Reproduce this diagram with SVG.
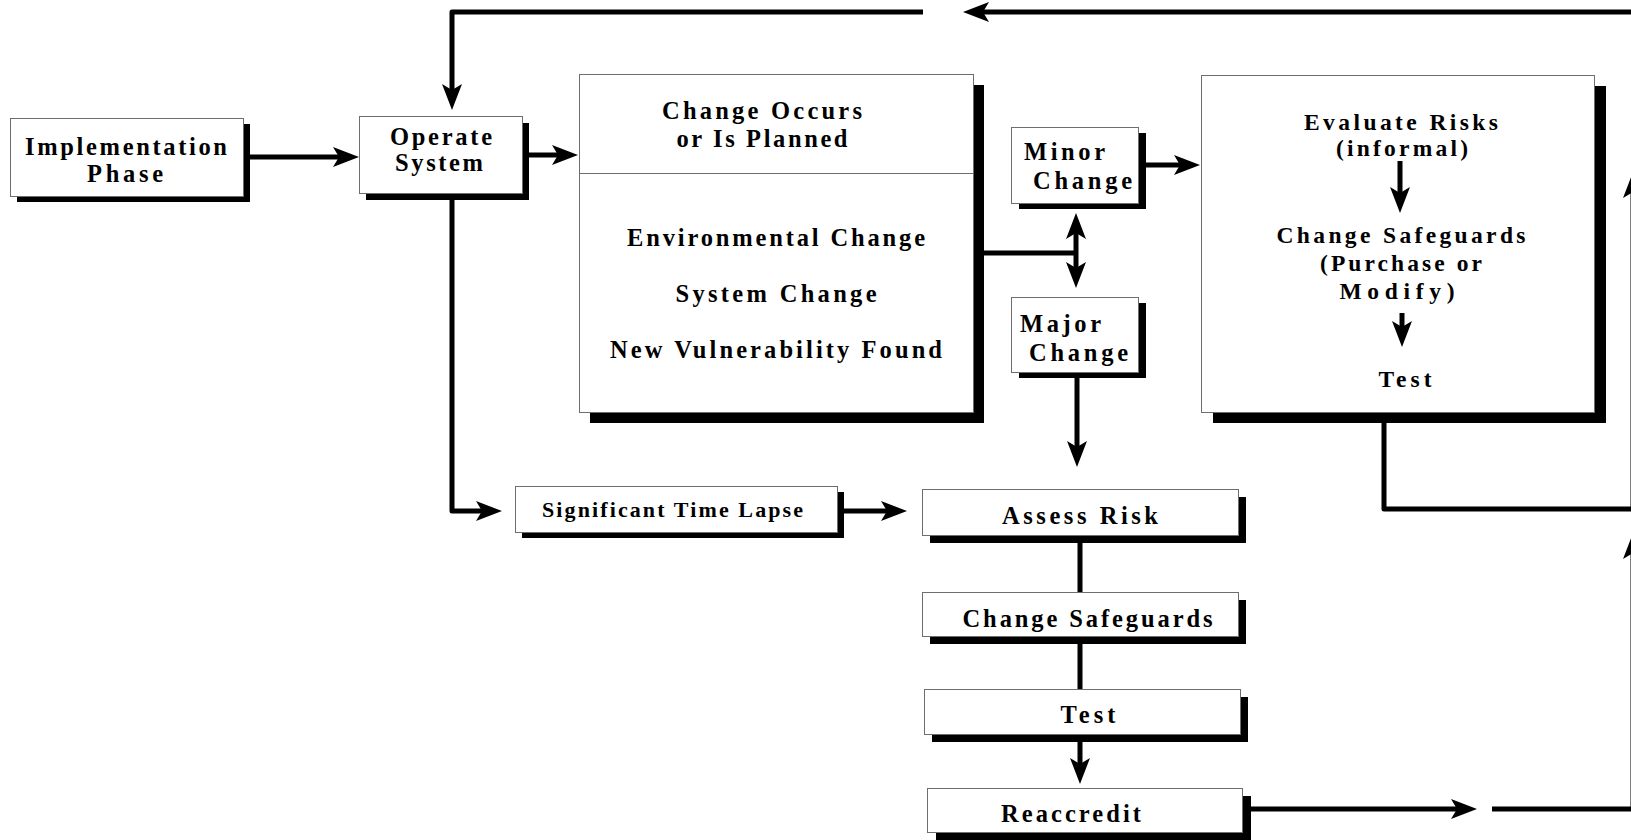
<svg xmlns="http://www.w3.org/2000/svg" width="1631" height="840" viewBox="0 0 1631 840">
<style>
.box{fill:#fff;stroke:#6e6e6e;stroke-width:1}
.sh{fill:#000}
.ln{fill:none;stroke:#000;stroke-width:5;stroke-linejoin:round;stroke-linecap:butt}
.arr{marker-end:url(#ah)}
text{font-family:"Liberation Serif","Times New Roman",serif;font-weight:bold;font-size:24.5px;fill:#000;text-anchor:middle}
.s21{font-size:22px}
.s22{font-size:23.5px}
</style>
<defs>
<marker id="ah" markerUnits="userSpaceOnUse" viewBox="-27 -11 28 22" markerWidth="28" markerHeight="22" refX="-18" refY="0" orient="auto">
<path d="M0,0 L-26,-10 L-20,0 L-26,10 Z" fill="#000"/>
</marker>
</defs>
<rect width="1631" height="840" fill="#fff"/>
<g id="implementation-phase">
<rect class="sh" x="17" y="124" width="233" height="78"/>
<rect class="box" x="10.5" y="118.5" width="233" height="78"/>
<text x="126" y="155" textLength="202" lengthAdjust="spacing">Implementation</text>
<text x="125" y="182" textLength="76" lengthAdjust="spacing">Phase</text>
</g>
<g id="operate-system">
<rect class="sh" x="366" y="123" width="163" height="77"/>
<rect class="box" x="359.5" y="116.5" width="163" height="77"/>
<text x="441" y="145" textLength="102" lengthAdjust="spacing">Operate</text>
<text x="439" y="171" textLength="88" lengthAdjust="spacing">System</text>
</g>
<g id="change-occurs">
<rect class="sh" x="590" y="85" width="394" height="338"/>
<rect class="box" x="579.5" y="74.5" width="394" height="338"/>
<line x1="579.5" y1="173.5" x2="973.5" y2="173.5" stroke="#6e6e6e" stroke-width="1"/>
<text x="762" y="119" textLength="200" lengthAdjust="spacing">Change Occurs</text>
<text x="762" y="147" textLength="171" lengthAdjust="spacing">or Is Planned</text>
<text x="776" y="246" textLength="298" lengthAdjust="spacing">Environmental Change</text>
<text x="776" y="302" textLength="201" lengthAdjust="spacing">System Change</text>
<text x="776" y="358" textLength="332" lengthAdjust="spacing">New Vulnerability Found</text>
</g>
<g id="minor-change">
<rect class="sh" x="1019" y="133" width="127" height="76"/>
<rect class="box" x="1011.5" y="127.5" width="127" height="76"/>
<text x="1064.5" y="160" textLength="81" lengthAdjust="spacing">Minor</text>
<text x="1082.5" y="189" textLength="99" lengthAdjust="spacing">Change</text>
</g>
<g id="major-change">
<rect class="sh" x="1019" y="303" width="127" height="75"/>
<rect class="box" x="1011.5" y="297.5" width="127" height="75"/>
<text x="1060.5" y="332" textLength="81" lengthAdjust="spacing">Major</text>
<text x="1078.5" y="361" textLength="99" lengthAdjust="spacing">Change</text>
</g>
<g id="evaluate-risks">
<rect class="sh" x="1213" y="86" width="393" height="337"/>
<rect class="box" x="1201.5" y="75.5" width="393" height="337"/>
<text class="s22" x="1401" y="130" textLength="194" lengthAdjust="spacing">Evaluate Risks</text>
<text class="s22" x="1402" y="156" textLength="132" lengthAdjust="spacing">(informal)</text>
<text class="s22" x="1401" y="243" textLength="249" lengthAdjust="spacing">Change Safeguards</text>
<text class="s22" x="1401" y="271" textLength="162" lengthAdjust="spacing">(Purchase or</text>
<text class="s22" x="1397" y="299" textLength="115" lengthAdjust="spacing">Modify)</text>
<text class="s22" x="1405" y="387" textLength="53" lengthAdjust="spacing">Test</text>
</g>
<g id="significant-time-lapse">
<rect class="sh" x="522" y="492" width="322" height="46"/>
<rect class="box" x="515.5" y="486.5" width="322" height="46"/>
<text class="s21" x="672.5" y="517" textLength="261" lengthAdjust="spacing">Significant Time Lapse</text>
</g>
<g id="assess-risk">
<rect class="sh" x="930" y="497" width="316" height="46"/>
<rect class="box" x="922.5" y="489.5" width="316" height="46"/>
<text x="1080" y="524" textLength="156" lengthAdjust="spacing">Assess Risk</text>
</g>
<g id="change-safeguards">
<rect class="sh" x="930" y="600" width="316" height="44"/>
<rect class="box" x="922.5" y="592.5" width="316" height="44"/>
<text x="1087.5" y="627" textLength="250" lengthAdjust="spacing">Change Safeguards</text>
</g>
<g id="test">
<rect class="sh" x="932" y="697" width="316" height="45"/>
<rect class="box" x="924.5" y="689.5" width="316" height="45"/>
<text x="1088" y="723" textLength="55" lengthAdjust="spacing">Test</text>
</g>
<g id="reaccredit">
<rect class="sh" x="936" y="796" width="315" height="44"/>
<rect class="box" x="927.5" y="788.5" width="315" height="44"/>
<text x="1071" y="822" textLength="140" lengthAdjust="spacing">Reaccredit</text>
</g>
<g id="connectors">
<path class="ln arr" d="M1640,12 L981,12"/>
<path class="ln arr" d="M923,12 L452,12 L452,92"/>
<path class="ln arr" d="M250,157 L341,157"/>
<path class="ln arr" d="M529,155 L560,155"/>
<path class="ln arr" d="M452,198 L452,511 L484,511"/>
<path class="ln" d="M982,253 L1076,253"/>
<path class="ln arr" d="M1076,253 L1076,231"/>
<path class="ln arr" d="M1076,253 L1076,270"/>
<path class="ln arr" d="M1146,165 L1182,165"/>
<path class="ln arr" d="M1077,377 L1077,449"/>
<path class="ln arr" d="M844,511 L889,511"/>
<path class="ln" d="M1080,541 L1080,592"/>
<path class="ln" d="M1080,642 L1080,689"/>
<path class="ln arr" d="M1080,740 L1080,766"/>
<path class="ln arr" d="M1400,161 L1400,195"/>
<path class="ln arr" d="M1402,313 L1402,329"/>
<path class="ln arr" d="M1384,421 L1384,509 L1633,509 L1633,190"/>
<path class="ln arr" d="M1251,809 L1459,809"/>
<path class="ln arr" d="M1492,809 L1633,809 L1633,551"/>
</g>
</svg>
